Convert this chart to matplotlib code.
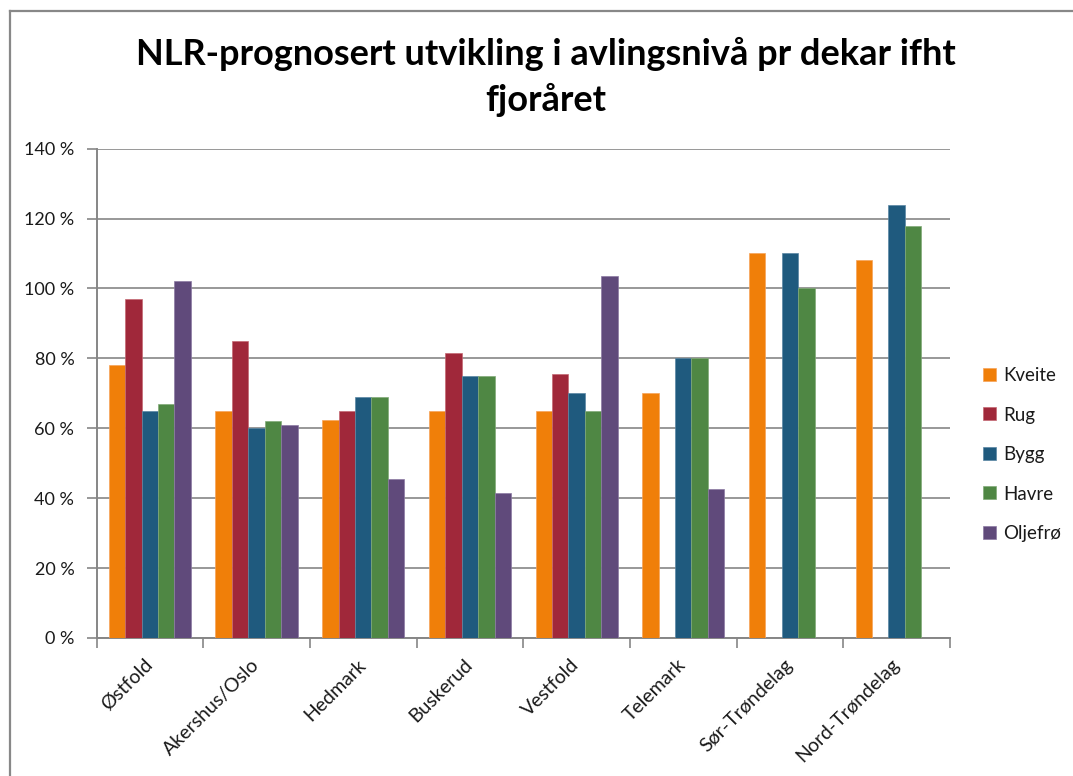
import numpy as np
import matplotlib
matplotlib.use("Agg")
import matplotlib.pyplot as plt
from matplotlib.lines import Line2D
from matplotlib.transforms import ScaledTranslation

regions = ["Østfold", "Akershus/Oslo", "Hedmark", "Buskerud", "Vestfold",
           "Telemark", "Sør-Trøndelag", "Nord-Trøndelag"]
series_names = ["Kveite", "Rug", "Bygg", "Havre", "Oljefrø"]
kveite  = [78, 65, 62.5, 65, 65, 70, 110, 108]
rug     = [97, 85, 65, 81.5, 75.5, None, None, None]
bygg    = [65, 60, 69, 75, 70, 80, 110, 124]
havre   = [67, 62, 69, 75, 65, 80, 100, 118]
oljefro = [102, 61, 45.5, 41.5, 103.5, 42.5, None, None]
yticks = [0, 20, 40, 60, 80, 100, 120, 140]
title = "NLR-prognosert utvikling i avlingsnivå pr dekar ifht\nfjoråret"

colors = ["#F07F09", "#A0283A", "#1F5A7E", "#4F8744", "#604A7B"]
edges = ["#F6A45A", "#C46873", "#5A86A3", "#82AB78", "#8C7AA3"]

W, H = 1073, 776
fig = plt.figure(figsize=(W / 100, H / 100), dpi=100)
fig.patch.set_facecolor("white")

ax = fig.add_axes([96.5 / W, 1 - 638 / H, (950 - 96.5) / W, (638 - 148.6) / H])

all_series = [kveite, rug, bygg, havre, oljefro]
n = len(all_series)
bw = 1 / (n + 1.5)
x = np.arange(len(regions))
for j, (name, vals) in enumerate(zip(series_names, all_series)):
    v = np.array([np.nan if a is None else a for a in vals], dtype=float)
    ok = np.isfinite(v)
    ax.bar(x[ok] + (j - (n - 1) / 2) * bw, v[ok], width=bw, color=colors[j],
           edgecolor=edges[j], linewidth=0.5, label=name, zorder=3)

ax.set_xlim(-0.5, len(regions) - 0.5)
ax.set_ylim(0, 140)
ax.set_yticks(yticks)
ax.set_yticklabels([f"{t} %" for t in yticks])
ax.yaxis.grid(True, color="#868686", linewidth=1.2, zorder=0)
ax.set_axisbelow(True)

ax.set_xticks(np.arange(-0.5, len(regions) + 0.5, 1.0))
ax.set_xticklabels([])
ax.set_xticks(x, minor=True)
ax.set_xticklabels(regions, minor=True, rotation=45, ha="right", va="top",
                   fontsize=14, family="Lato", color="#1a1a1a")
ax.tick_params(axis="x", which="minor", length=0, pad=13)
ax.tick_params(axis="x", which="major", length=7, width=1.2, color="#868686")
ax.tick_params(axis="y", length=7, width=1.2, color="#868686", pad=9,
               labelsize=13, labelcolor="#1a1a1a")
for lab in ax.get_yticklabels():
    lab.set_family("Lato")
off = ScaledTranslation(6 / 100, 0, fig.dpi_scale_trans)
for lab in ax.get_xticklabels(minor=True):
    lab.set_transform(lab.get_transform() + off)

for s in ["top", "right"]:
    ax.spines[s].set_visible(False)
for s in ["left", "bottom"]:
    ax.spines[s].set_color("#868686")
    ax.spines[s].set_linewidth(1.4)

leg = fig.legend(loc="upper left", bbox_to_anchor=(983 / W, 1 - 367 / H),
                 frameon=False, borderpad=0, borderaxespad=0,
                 handlelength=0.68, handleheight=0.68, handletextpad=0.4,
                 labelspacing=1.2, prop={"family": "Lato", "size": 13.5})
for t in leg.get_texts():
    t.set_color("#1a1a1a")

fig.text(546 / W, 1 - 37 / H, title, ha="center", va="top", family="Lato",
         fontweight="bold", fontsize=26, linespacing=1.42, color="black")

fig.add_artist(Line2D([10 / W, 10 / W], [0, 1 - 11 / H], transform=fig.transFigure,
                      color="#888888", linewidth=1.6))
fig.add_artist(Line2D([10 / W, 1], [1 - 11 / H, 1 - 11 / H], transform=fig.transFigure,
                      color="#888888", linewidth=1.6))

fig.savefig("out.png", dpi=100)
